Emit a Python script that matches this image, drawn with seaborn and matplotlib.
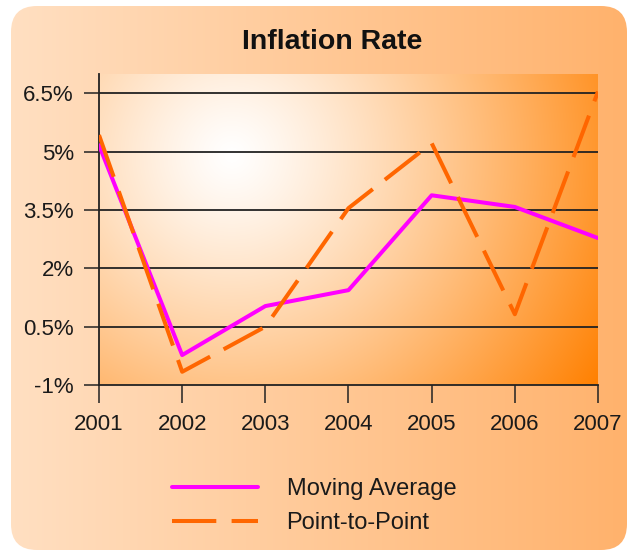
import numpy as np
import pandas as pd
import seaborn as sns
import matplotlib.pyplot as plt
from matplotlib.patches import FancyBboxPatch
from matplotlib.lines import Line2D
from matplotlib.colors import LinearSegmentedColormap

# data
years = [2001, 2002, 2003, 2004, 2005, 2006, 2007]
moving_avg = [5.17, -0.23, 1.03, 1.44, 3.88, 3.58, 2.78]
point_to_point = [5.43, -0.66, 0.5, 3.55, 5.22, 0.82, 6.55]
ytick_vals = [-1, 0.5, 2, 3.5, 5, 6.5]
ytick_labels = ['-1%', '0.5%', '2%', '3.5%', '5%', '6.5%']

df = pd.DataFrame({'year': years, 'ma': moving_avg, 'ptp': point_to_point})

sns.set_style('white')
plt.rcParams['font.family'] = ['Liberation Sans', 'DejaVu Sans']

W, H = 628, 550
fig = plt.figure(figsize=(W / 100, H / 100), dpi=100)

# outer rounded panel with horizontal gradient
bg = fig.add_axes([0, 0, 1, 1], zorder=-5)
bg.set_xlim(0, W)
bg.set_ylim(H, 0)
bg.axis('off')
panel_cmap = LinearSegmentedColormap.from_list('panel', ['#ffe0c3', '#ffb26c'])
grad = np.tile(np.linspace(0, 1, 256), (4, 1))
im = bg.imshow(grad, cmap=panel_cmap, extent=(0, W, H, 0), aspect='auto')
box = FancyBboxPatch((11, 6), 616, 544, boxstyle='round,pad=0,rounding_size=26',
                     transform=bg.transData, facecolor='none', edgecolor='none')
bg.add_patch(box)
im.set_clip_path(box)

# main axes
x0, x1, y0, y1 = 99, 598, 74, 385
ax = fig.add_axes([x0 / W, 1 - y1 / H, (x1 - x0) / W, (y1 - y0) / H])

# radial gradient for plot area
cols = np.arange(x0, x1) + 0.5
rows = np.arange(y0, y1) + 0.5
px, py = np.meshgrid(cols, rows)
d = np.sqrt((px - 232) ** 2 + (py - 155) ** 2) / 432
f = np.clip(d, 0, 1) ** 1.2
white = np.array([1.0, 1.0, 1.0])
orange = np.array([1.0, 0x80 / 255, 0.0])
rgb = white[None, None, :] * (1 - f[..., None]) + orange[None, None, :] * f[..., None]
ax.imshow(rgb, extent=(2001, 2007, -1, 7), aspect='auto', origin='upper', zorder=0)

sns.lineplot(data=df, x='year', y='ma', ax=ax, color='#ff00ff', linewidth=2.9, zorder=3)
sns.lineplot(data=df, x='year', y='ptp', ax=ax, color='#ff6600', linewidth=2.9,
             linestyle=(0, (11, 3.8)), zorder=4)

ax.set_xlim(2001, 2007)
ax.set_ylim(-1, 7)
ax.set_xticks(years)
ax.set_xticklabels([str(y) for y in years])
ax.set_yticks(ytick_vals)
ax.set_yticklabels(ytick_labels)
ax.set_xlabel('')
ax.set_ylabel('')
for yv in ytick_vals[1:]:
    ax.axhline(yv, color='#222222', linewidth=1.3, zorder=1)

ax.tick_params(axis='y', length=11, width=1.1, pad=7, labelsize=16,
               color='#222222', labelcolor='#1a1a1a', direction='out', left=True)
ax.tick_params(axis='x', length=13, width=1.1, pad=8, labelsize=16,
               color='#222222', labelcolor='#1a1a1a', direction='out', bottom=True)
for s in ['top', 'right']:
    ax.spines[s].set_visible(False)
for s in ['left', 'bottom']:
    ax.spines[s].set_color('#222222')
    ax.spines[s].set_linewidth(1.3)

fig.text(332 / W, 1 - 42 / H, 'Inflation Rate', ha='center', va='center',
         fontsize=20.5, fontweight='bold', color='#111111')

handles = [Line2D([], [], color='#ff00ff', linewidth=2.9),
           Line2D([], [], color='#ff6600', linewidth=2.9, linestyle=(0, (11, 3.8)))]
fig.legend(handles, ['Moving Average', 'Point-to-Point'], loc='center left',
           bbox_to_anchor=(172 / W, 1 - 506 / H), frameon=False, fontsize=17,
           handlelength=3.65, handletextpad=1.2, labelspacing=0.52,
           borderpad=0, borderaxespad=0, labelcolor='#1a1a1a')

fig.savefig('out.png', dpi=100)
